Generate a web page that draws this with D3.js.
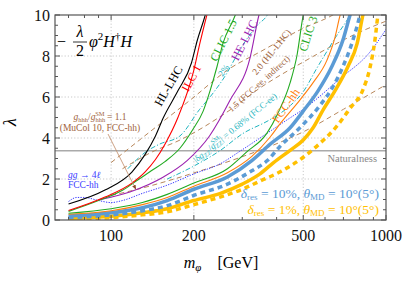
<!doctype html>
<html lang="en">
<head>
<meta charset="utf-8">
<title>lambda vs m_phi</title>
<script src="https://cdnjs.cloudflare.com/ajax/libs/d3/7.8.5/d3.min.js"></script>
<style>
  body { margin: 0; background: #fff; }
  svg text { font-family: "Liberation Serif", "DejaVu Serif", serif; }
  .tick-label { font-size: 16px; fill: #111; }
  .mi { font-style: italic; }
</style>
</head>
<body>
<div id="chart"></div>
<script>
// ---- data: [m_phi (GeV), lambda] ----
var hlLhc   = [[70,0.78],[95,1.46],[119,2.34],[133,3.2],[145,4.1],[155,5.0],[175,6.3],[196,7.66],[206,8.78],[220,10],[225,10.5]];
var ilc1    = [[70,0.46],[95,1.12],[119,1.8],[133,2.35],[145,2.95],[157,3.7],[175,5.0],[199,7.2],[211,8.7],[223,10],[228,10.5]];
var clic15  = [[70,0.42],[90,0.95],[110,1.45],[125,1.95],[140,2.4],[157,2.85],[178,3.5],[198,4.4],[216,5.3],[229,6.3],[243,7.5],[255,8.6],[283,10],[290,10.4]];
var heLhc   = [[90,0.98],[117,1.37],[155,2.1],[189,2.9],[228,4.1],[271,5.85],[320,7.9],[345,10],[355,10.6]];
var clic3   = [[70,0.33],[100,0.55],[130,0.85],[160,1.25],[200,1.8],[265,2.5],[310,3.3],[369,4.24],[404,5.2],[448,6.7],[474,8.0],[500,10],[510,10.5]];
var fccHh   = [[70,0.28],[100,0.45],[130,0.75],[160,1.1],[200,1.65],[265,2.3],[325,3.1],[379,4.05],[412,4.7],[486,5.85],[543,6.7],[610,7.8],[652,8.9],[681,10],[700,10.5]];
var res10   = [[70,0.2],[100,0.35],[130,0.6],[160,0.95],[200,1.5],[265,2.1],[325,2.9],[379,3.7],[448,4.5],[499,5.3],[566,6.3],[636,7.5],[698,8.8],[740,10],[760,10.5]];
var res10b  = [[70,0.12],[100,0.25],[130,0.45],[160,0.7],[200,1.2],[265,1.75],[325,2.4],[370,2.9],[412,3.6],[486,4.5],[576,5.6],[641,6.5],[698,7.5],[759,8.8],[804,10],[820,10.5]];
var res1    = [[70,0.08],[100,0.18],[130,0.35],[160,0.55],[200,0.95],[250,1.3],[300,1.75],[348,2.25],[390,2.8],[448,3.4],[500,3.9],[543,4.5],[592,5.4],[652,6.3],[728,7.5],[785,8.6],[824,10],[840,10.5]];
var res1b   = [[70,0.05],[100,0.12],[130,0.25],[160,0.4],[200,0.75],[260,1.2],[300,1.5],[348,1.9],[412,2.35],[499,3.05],[576,3.75],[660,4.55],[740,5.45],[824,6.35],[875,7.45],[912,8.8],[935,10],[950,10.5]];
var gg4l    = [[70,0.9],[75,1.1],[80,1.1],[90,0.95],[100,0.85],[110,0.95],[130,1.3],[160,1.7],[200,2.25],[250,2.75],[294,3.35],[348,4.0],[450,5.0],[500,5.4],[681,6.9],[875,8.2],[1000,9.3]];
// g_hhh / g_hhh^SM contours
var hhh20   = [[100,2.8],[131,4.05],[194,5.85],[271,7.4],[348,8.2],[486,9.27],[641,10],[700,10.3]];
var hhh15   = [[110,2.5],[140,3.3],[178,3.9],[271,5.37],[348,6.44],[499,7.7],[804,9.17],[1000,9.7]];
var hhh11   = [[100,1.2],[130,1.56],[160,1.9],[216,2.44],[312,3.17],[380,3.6],[500,4.3],[700,5.4],[1000,6.6]];
// |dg_ZZ / g_ZZ^SM| contours
var zz2     = [[115,2.5],[133,3.3],[150,3.7],[178,4.1],[210,5.4],[229,6.0],[262,7.1],[294,8.3],[340,9.5],[370,10],[380,10.3]];
var zz068   = [[160,2.0],[198,2.6],[250,3.4],[300,4.2],[379,4.9],[450,5.6],[499,6.24],[560,7.4],[662,9.0],[740,10],[760,10.3]];
var naturalness = 3.38;

var xTicks = [100, 200, 500, 1000];
var xMinor = [70, 80, 90, 300, 400, 600, 700, 800, 900];
var yTicks = [0, 2, 4, 6, 8, 10];

var W = 407, H = 282;
var x = d3.scaleLog().domain([62.5, 1000]).range([55, 386]);
var y = d3.scaleLinear().domain([0, 10]).range([220, 15]);

var svg = d3.select("#chart").append("svg").attr("width", W).attr("height", H);

svg.append("clipPath").attr("id", "clip")
  .append("rect").attr("x", 55).attr("y", 15).attr("width", 331).attr("height", 205);

// grid
var grid = svg.append("g").attr("stroke", "#bbb").attr("stroke-width", 0.8).attr("stroke-dasharray", "1.2,2");
[100, 200, 500].forEach(function(v) {
  grid.append("line").attr("x1", x(v)).attr("x2", x(v)).attr("y1", y(0)).attr("y2", y(10));
});
[2, 4, 6, 8].forEach(function(v) {
  grid.append("line").attr("x1", x(62.5)).attr("x2", x(1000)).attr("y1", y(v)).attr("y2", y(v));
});

var plot = svg.append("g").attr("clip-path", "url(#clip)");

// naturalness
plot.append("line").attr("x1", x(62.5)).attr("x2", x(1000))
  .attr("y1", y(naturalness)).attr("y2", y(naturalness))
  .attr("stroke", "#aaa").attr("stroke-width", 1.4);

var line = d3.line().x(function(d) { return x(d[0]); }).y(function(d) { return y(d[1]); })
  .curve(d3.curveMonotoneX);

function draw(data, color, width, dash) {
  plot.append("path").datum(data).attr("d", line)
    .attr("fill", "none").attr("stroke", color).attr("stroke-width", width)
    .attr("stroke-dasharray", dash || null);
}

var brown = "#b8875a", cyan = "#1fb5c0";
draw(hhh20, brown, 1, "5,3.5");
draw(hhh15, brown, 1, "5,3.5");
draw(hhh11, brown, 1, "5,3.5");
draw(zz2, cyan, 1, "5,2,1.2,2");
draw(zz068, cyan, 1, "5,2,1.2,2");
draw(gg4l, "#3a3aff", 1, "1.3,1.3");
draw(res1b, "#ffc000", 3.5, "5,4");
draw(res1, "#ffc000", 3.5);
draw(res10b, "#5b9bd5", 3.5, "5,4");
draw(res10, "#5b9bd5", 3.5);
draw(fccHh, "#ff7f0e", 1.1);
draw(clic3, "#22aa22", 1.1);
draw(heLhc, "#9b22b0", 1.1);
draw(clic15, "#22aa22", 1.1);
draw(ilc1, "#ff0000", 1.1);
draw(hlLhc, "#000", 1.1);

// frame and ticks
var frame = svg.append("g").attr("stroke", "#555").attr("stroke-width", 1);
frame.append("rect").attr("x", 55).attr("y", 15).attr("width", 331).attr("height", 205).attr("fill", "none").attr("stroke-width", 1.2);
xTicks.concat(xMinor).forEach(function(v) {
  var len = xTicks.indexOf(v) >= 0 ? 5 : 3;
  frame.append("line").attr("x1", x(v)).attr("x2", x(v)).attr("y1", 220).attr("y2", 220 - len);
  frame.append("line").attr("x1", x(v)).attr("x2", x(v)).attr("y1", 15).attr("y2", 15 + len);
});
d3.range(0, 10.01, 0.5).forEach(function(v) {
  var len = v % 2 === 0 ? 5 : 3;
  frame.append("line").attr("x1", 55).attr("x2", 55 + len).attr("y1", y(v)).attr("y2", y(v));
  frame.append("line").attr("x1", 386).attr("x2", 386 - len).attr("y1", y(v)).attr("y2", y(v));
});

svg.selectAll(".xl").data(xTicks).enter().append("text")
  .attr("class", "tick-label").attr("x", function(d) { return x(d); }).attr("y", 241)
  .attr("text-anchor", "middle").text(function(d) { return d; });
svg.selectAll(".yl").data(yTicks).enter().append("text")
  .attr("class", "tick-label").attr("x", 50).attr("y", function(d) { return y(d) + 5.5; })
  .attr("text-anchor", "end").text(function(d) { return d; });

// axis labels
svg.append("text").attr("class", "mi").attr("font-size", 18)
  .attr("transform", "translate(16,122) rotate(-90)").attr("text-anchor", "middle").text("λ");
var xl = svg.append("text").attr("x", 221).attr("y", 268).attr("text-anchor", "middle").attr("font-size", 16);
xl.append("tspan").attr("class", "mi").text("m");
xl.append("tspan").attr("class", "mi").attr("font-size", 11).attr("dy", 3).text("φ");
xl.append("tspan").attr("dy", -3).text("\u2002\u2002[GeV]");

// operator
var op = svg.append("g").attr("font-size", 16);
op.append("text").attr("x", 57).attr("y", 47).text("−");
op.append("text").attr("class", "mi").attr("x", 80).attr("y", 37).attr("text-anchor", "middle").text("λ");
op.append("line").attr("x1", 73).attr("x2", 87).attr("y1", 42).attr("y2", 42).attr("stroke", "#000").attr("stroke-width", 0.8);
op.append("text").attr("x", 80).attr("y", 56).attr("text-anchor", "middle").text("2");
var opt = op.append("text").attr("x", 89).attr("y", 47);
opt.append("tspan").attr("class", "mi").text("φ");
opt.append("tspan").attr("font-size", 11).attr("dy", -7).text("2");
opt.append("tspan").attr("class", "mi").attr("dy", 7).text("H");
opt.append("tspan").attr("font-size", 11).attr("dy", -7).text("†");
opt.append("tspan").attr("class", "mi").attr("dy", 7).text("H");

// rotated curve labels
function rlabel(txt, cx, cy, ang, color, size) {
  return svg.append("text").attr("transform", "translate(" + cx + "," + cy + ") rotate(" + ang + ")")
    .attr("text-anchor", "middle").attr("fill", color).attr("font-size", size).text(txt);
}
rlabel("HL-LHC", 172, 88, -60, "#000", 12);
rlabel("ILC 1", 195, 80, -62, "#ff0000", 12);
rlabel("CLIC 1.5", 227, 42, -63, "#22aa22", 12);
rlabel("HE-LHC", 248, 42, -63, "#9b22b0", 12);
rlabel("CLIC 3", 312, 35, -72, "#22aa22", 12);
rlabel("FCC-hh", 289, 108, -55, "#ff7f0e", 12);
rlabel("2%", 226, 72, -55, cyan, 9);
rlabel("2.0 (HL-LHC)", 274, 54, -51, "#a0643c", 9.5);
rlabel("1.5 (FCC-ee, indirect)", 261, 86, -42, "#a0643c", 9);

var zl = svg.append("text").attr("transform", "translate(237,130) rotate(-39)")
  .attr("text-anchor", "middle").attr("fill", cyan).attr("font-size", 9);
zl.append("tspan").text("|δ");
zl.append("tspan").attr("class", "mi").text("g");
zl.append("tspan").attr("font-size", 6.5).attr("dy", 2).text("ZZ");
zl.append("tspan").attr("dy", -2).text("/");
zl.append("tspan").attr("class", "mi").text("g");
zl.append("tspan").attr("font-size", 6.5).attr("dy", 2).text("ZZ");
zl.append("tspan").attr("font-size", 6.5).attr("dy", -6).attr("dx", -9).text("SM");
zl.append("tspan").attr("dy", 4).text("| = 0.68% (FCC-ee)");

// hhh annotation
var hl = svg.append("text").attr("x", 100).attr("y", 120).attr("text-anchor", "middle")
  .attr("fill", "#a0643c").attr("font-size", 9.5);
hl.append("tspan").attr("class", "mi").text("g");
hl.append("tspan").attr("font-size", 6.5).attr("dy", 2).text("hhh");
hl.append("tspan").attr("dy", -2).text("/");
hl.append("tspan").attr("class", "mi").text("g");
hl.append("tspan").attr("font-size", 6.5).attr("dy", 2).text("hhh");
hl.append("tspan").attr("font-size", 6.5).attr("dy", -6).attr("dx", -10).text("SM");
hl.append("tspan").attr("dy", 4).text(" = 1.1");
svg.append("text").attr("x", 100).attr("y", 131).attr("text-anchor", "middle")
  .attr("fill", "#a0643c").attr("font-size", 9.5).text("(MuCol 10, FCC-hh)");
svg.append("defs").append("marker").attr("id", "arr").attr("viewBox", "0 0 10 10")
  .attr("refX", 9).attr("refY", 5).attr("markerWidth", 6).attr("markerHeight", 6).attr("orient", "auto")
  .append("path").attr("d", "M0,1 L10,5 L0,9 z").attr("fill", "#8b4a2b");
svg.append("line").attr("x1", 108).attr("y1", 134).attr("x2", x(123)).attr("y2", y(1.5))
  .attr("stroke", "#c08a66").attr("stroke-width", 0.8).attr("marker-end", "url(#arr)");

// gg -> 4l
var g4 = svg.append("text").attr("x", 68).attr("y", 178).attr("fill", "#3a3aff").attr("font-size", 9.5);
g4.append("tspan").attr("class", "mi").text("gg");
g4.append("tspan").text(" → 4");
g4.append("tspan").attr("class", "mi").text("ℓ");
svg.append("text").attr("x", 68).attr("y", 188).attr("fill", "#3a3aff").attr("font-size", 9.5).text("FCC-hh");

svg.append("text").attr("x", 377).attr("y", 162).attr("text-anchor", "end")
  .attr("fill", "#888").attr("font-size", 10.5).text("Naturalness");

// legend text
function legend(yy, color, pct) {
  var t = svg.append("text").attr("x", 379).attr("y", yy).attr("text-anchor", "end")
    .attr("fill", color).attr("font-size", 13.5);
  t.append("tspan").attr("class", "mi").text("δ");
  t.append("tspan").attr("font-size", 9).attr("dy", 2).text("res");
  t.append("tspan").attr("dy", -2).text(" = " + pct + ", ");
  t.append("tspan").attr("class", "mi").text("θ");
  t.append("tspan").attr("font-size", 9).attr("dy", 2).text("MD");
  t.append("tspan").attr("dy", -2).text(" = 10°(5°)");
}
legend(198, "#5b9bd5", "10%");
legend(214, "#ffc000", "1%");
</script>
</body>
</html>
